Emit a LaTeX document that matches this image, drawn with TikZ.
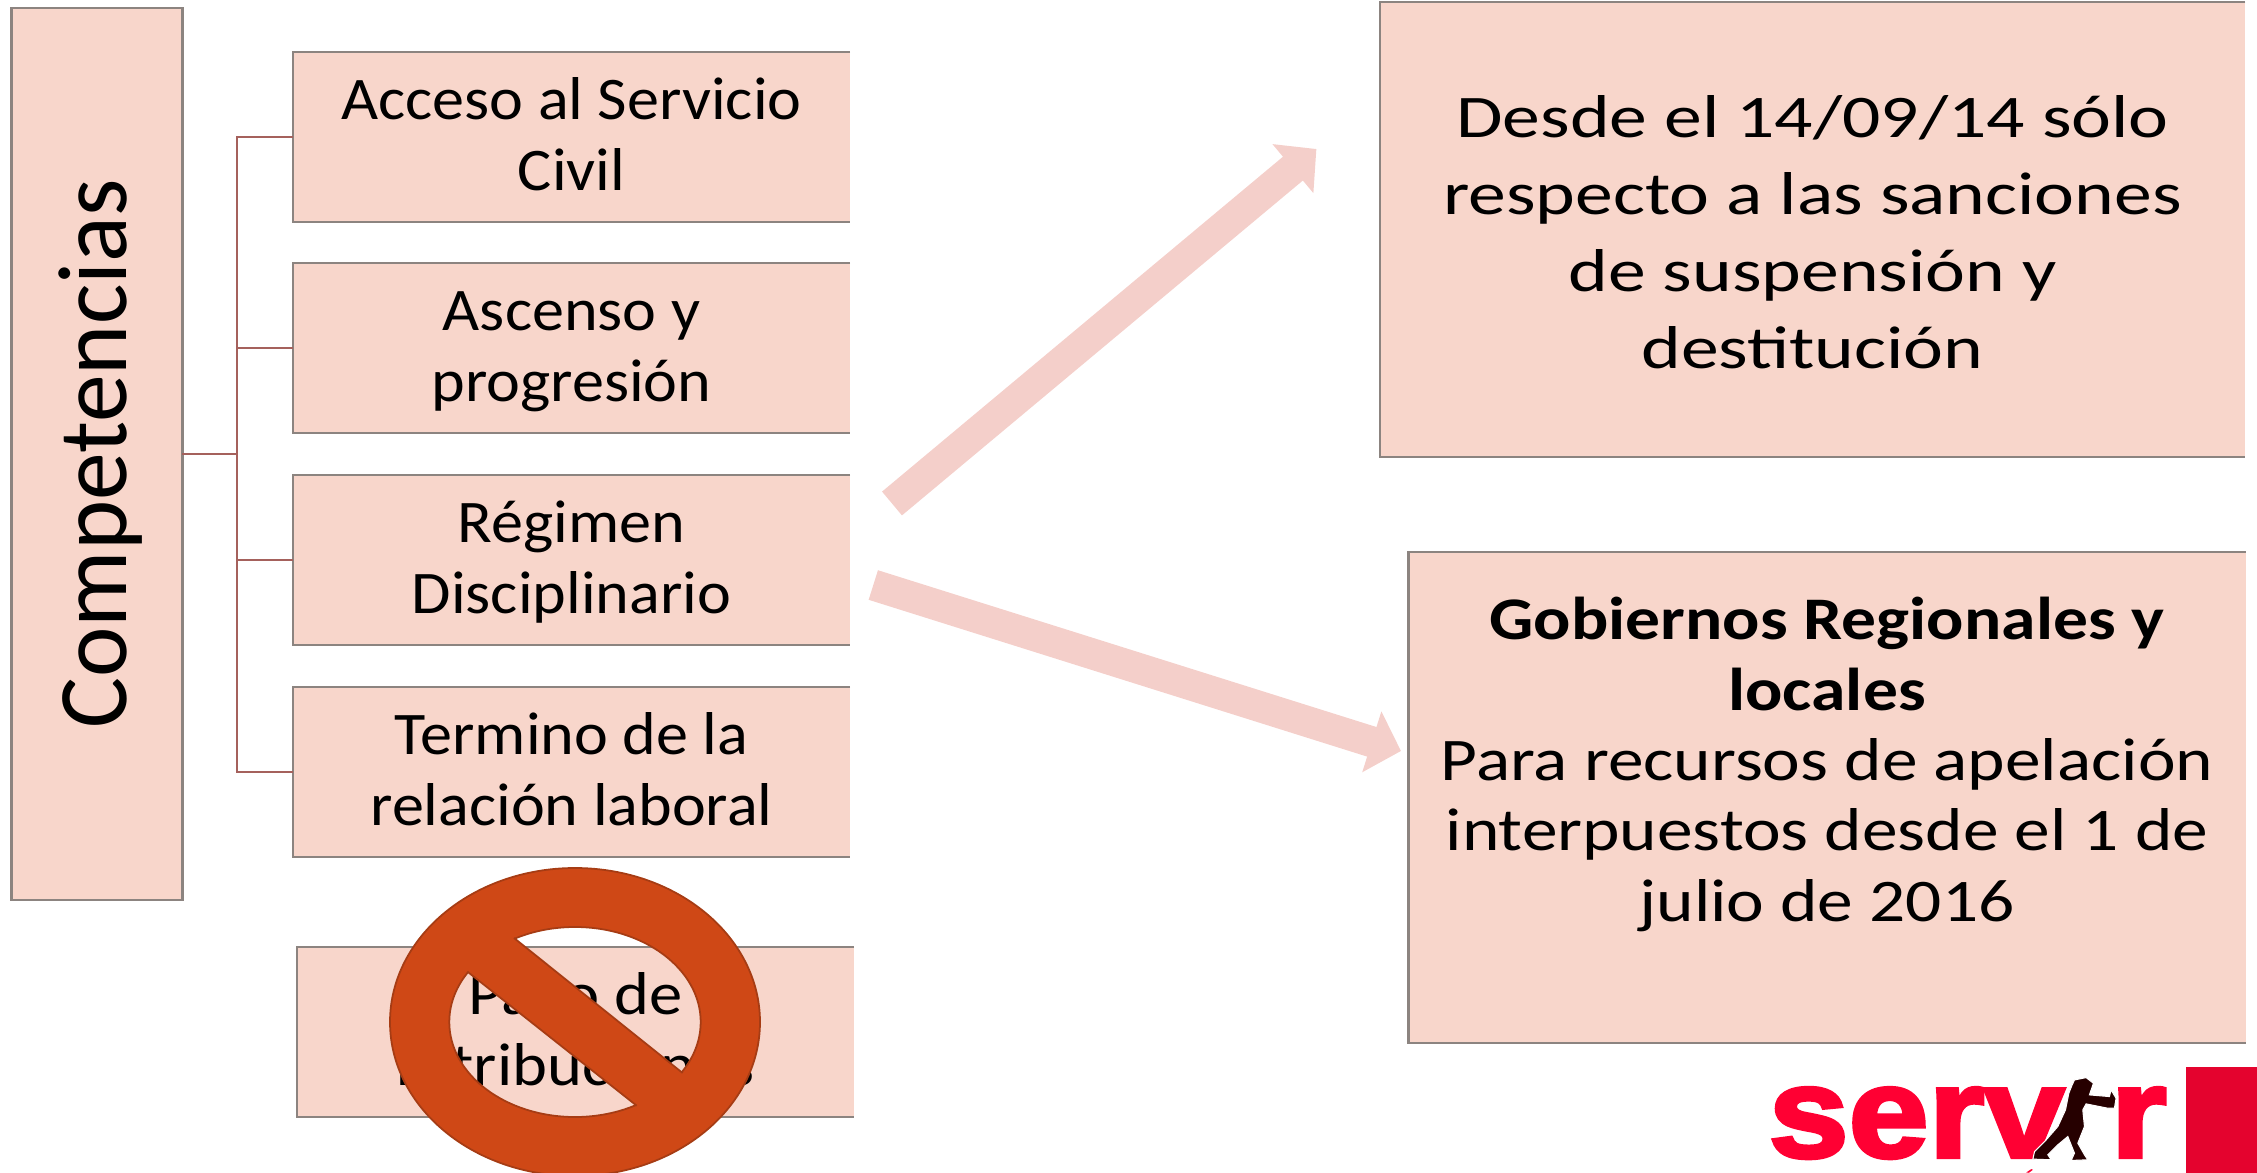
\documentclass[tikz,border=0pt]{standalone}
\usepackage{fontspec}
\setmainfont{Carlito}
\newfontfamily\hijofont[FakeStretch=1.06]{Carlito}
\newfontfamily\pagofont[FakeStretch=1.1]{Carlito}
\newfontfamily\compfont[FakeStretch=.97]{Carlito}
\newfontfamily\widefont[FakeStretch=1.25]{Carlito}
\newfontfamily\gobfont[FakeStretch=1.18,BoldFeatures={FakeStretch=1.15}]{Carlito}
\newfontfamily\logofont[FakeStretch=1.12,BoldFeatures={FakeBold=3.2}]{Liberation Sans}
\usetikzlibrary{arrows.meta}
\definecolor{cajafill}{HTML}{F8D6CB}
\definecolor{cajaline}{HTML}{8C8480}
\definecolor{linkline}{HTML}{A5615C}
\definecolor{flecha}{HTML}{F4CFCA}
\definecolor{prohibido}{HTML}{CF4816}
\definecolor{prohibline}{HTML}{A63C14}
\definecolor{logored}{HTML}{FF0033}
\definecolor{logobox}{HTML}{E4032E}
\newcommand{\dosl}[2]{\rule{0pt}{18pt}#1\\#2\rule[-7.7pt]{0pt}{7.7pt}}
\begin{document}
\begin{tikzpicture}[x=0.01cm, y=-0.01cm,
	caja/.style={fill=cajafill, inner sep=0pt, outer sep=0pt, align=center, font=\fontsize{17.2}{20}\selectfont},
	hijo/.style={caja, minimum width=5.57cm, minimum height=1.7cm, font=\hijofont\fontsize{17.2}{20}\selectfont},
	lado/.style={draw=cajaline, line width=0.7pt},
	link/.style={draw=linkline, line width=0.8pt},
	grande/.style={-{Triangle[length=3.06mm, width=6.2mm]}, flecha, line width=3.1mm}]
	\useasboundingbox (0,0) rectangle (2257,1173);

	\node[caja, draw=cajaline, line width=0.7pt, minimum width=1.705cm, minimum height=8.92cm] (comp) at (97,454) {};
	\node[rotate=90, font=\compfont\fontsize{28}{30}\selectfont] (compt) at (101,454) {Competencias};

	\node[hijo] (acceso) at (571.5,137) {\dosl{Acceso al Servicio}{Civil}};
	\node[hijo] (ascenso) at (571.5,348) {\dosl{Ascenso y}{progresión}};
	\node[hijo] (regimen) at (571.5,560) {\dosl{Régimen}{Disciplinario}};
	\node[hijo] (termino) at (571.5,772) {\dosl{Termino de la}{relación laboral}};
	\node[hijo, font=\pagofont\fontsize{17.2}{20}\selectfont] (pago) at (575.5,1032) {\dosl{Pago de}{retribuciones}};

	\node[caja, minimum width=8.65cm, minimum height=4.55cm, font=\widefont\fontsize{17.2}{21.9}\selectfont] (desde) at (1812.5,229.5) {\rule{0pt}{13.3pt}Desde el 14/09/14 sólo\\respecto a las sanciones\\de suspensión y\\destitución};
	\node[caja, minimum width=8.37cm, minimum height=4.91cm, font=\gobfont\fontsize{17.2}{20}\selectfont] (gob) at (1827,797.5) {\textbf{Gobiernos Regionales y}\\\textbf{locales}\\Para recursos de apelación\\interpuestos desde el 1 de\\julio de 2016\\[1.7pt]~};

	\foreach \n in {acceso,ascenso,regimen,termino,pago,desde,gob}
		\draw[lado] (\n.north east) -- (\n.north west) -- (\n.south west) -- (\n.south east);

	\coordinate (trunk) at (237,454);
	\draw[link] (comp.east) -- (trunk);
	\foreach \n in {acceso,ascenso,regimen,termino}
		\draw[link] (trunk) |- (\n.west);

	\coordinate (a) at (892,503.5); \coordinate (b) at (1316.4,149); \coordinate (c) at (873.3,585); \coordinate (d) at (1401,751);
	\draw[grande] (a) -- (b);
	\draw[grande] (c) -- (d);

	% senal de prohibido
	\fill[prohibido, even odd rule] (575,1022) ellipse [x radius=185, y radius=154] (575,1022) ellipse [x radius=125.7, y radius=95];
	\draw[prohibline, line width=0.5pt] (575,1022) ellipse [x radius=185, y radius=154] (575,1022) ellipse [x radius=125.7, y radius=95];
	\fill[prohibido] (491,919) -- (705.6,1092) -- (659.7,1124.7) -- (444.5,952.7) -- cycle;
	\draw[prohibline, line width=0.5pt] (514,938) -- (682.6,1073) (636.7,1105.7) -- (467.5,971.7);

	% logo
	\fill[logobox] (2186,1067) rectangle (2257,1173);
	\node[logored, inner sep=0pt, anchor=base west, font=\logofont\bfseries\fontsize{36.5}{36}\selectfont] (serv) at (1768,1157) {serv};
	\node[logored, inner sep=0pt, anchor=base west, font=\logofont\bfseries\fontsize{36.5}{36}\selectfont] (r) at (2110,1157) {r};
	\begin{scope}[shift={(1740,1030)}, x=0.00333cm, y=-0.00333cm]
		\fill[black!85!red, draw=white, line width=0.3pt] (1005,150) -- (1040,143) -- (1062,160) -- (1050,195) -- (1110,200) -- (1115,180) -- (1130,205) -- (1125,235) -- (1105,235) -- (1040,222) -- (1030,240) -- (1035,290) -- (1015,340) -- (1035,375) -- (1045,390) -- (995,392) -- (1005,370) -- (985,320) -- (955,345) -- (925,375) -- (935,390) -- (880,388) -- (885,365) -- (920,330) -- (955,290) -- (978,240) -- (988,190) -- (998,165) -- cycle;
		\fill[logored] (860,428) -- (875,418) -- (880,420) -- (868,429) -- cycle;
	\end{scope}
\end{tikzpicture}
\end{document}
